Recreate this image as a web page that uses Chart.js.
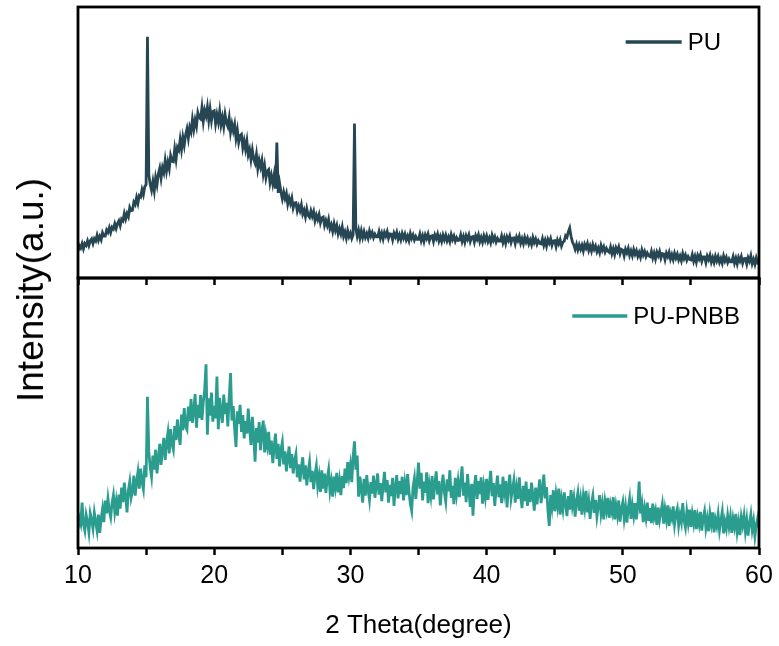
<!DOCTYPE html>
<html>
<head>
<meta charset="utf-8">
<title>XRD PU / PU-PNBB</title>
<script src="https://cdn.jsdelivr.net/npm/chart.js@4.4.0/dist/chart.umd.min.js"></script>
<style>
  body { margin: 0; background: #fff; }
  #wrap { position: relative; width: 779px; height: 646px; }
  #wrap canvas { position: absolute; left: 0; top: 0; }
  #ytitle {
    position: absolute; left: 31px; top: 290px;
    transform: translate(-50%, -50%) rotate(-90deg);
    font: 37px "Liberation Sans", Arial, sans-serif; color: #000; white-space: nowrap;
  }
</style>
</head>
<body>
<div id="wrap">
  <canvas id="chart-pu" width="779" height="646"></canvas>
  <canvas id="chart-pnbb" width="779" height="646"></canvas>
  <div id="ytitle">Intensity(a.u.)</div>
</div>
<script>
// 2θ sampling grid, 10..60 deg every 0.1 deg
var twoTheta = Array.from({length: 501}, function(_, i) { return +(10 + i * 0.1).toFixed(1); });
var xTicks = [10, 20, 30, 40, 50, 60];

// PU (top panel), one row = 1 deg
var puValues = [
  9.9, 12.0, 11.1, 12.7, 10.8, 12.7, 12.0, 13.7, 12.0, 13.7,
  14.4, 12.7, 14.5, 13.7, 15.8, 13.9, 15.4, 14.1, 16.7, 15.5,
  15.5, 17.7, 16.8, 18.6, 16.8, 18.7, 18.1, 20.0, 18.3, 20.1,
  21.1, 19.3, 21.7, 21.1, 23.8, 21.8, 23.8, 22.6, 26.0, 24.8,
  25.0, 28.0, 27.1, 29.7, 27.6, 30.4, 29.9, 32.6, 30.8, 33.7,
  34.5, 89.0, 38.0, 34.6, 32.4, 35.6, 32.2, 37.0, 34.4, 38.4,
  40.5, 36.9, 40.7, 38.9, 43.3, 39.5, 42.7, 40.3, 45.1, 43.1,
  42.9, 47.5, 43.8, 48.2, 47.2, 51.1, 47.5, 51.9, 49.0, 52.8,
  55.0, 51.6, 55.6, 53.9, 58.5, 54.9, 58.3, 56.0, 61.0, 59.2,
  58.7, 62.9, 57.9, 61.8, 59.8, 63.1, 58.3, 62.3, 58.1, 61.4,
  61.7, 57.0, 60.3, 57.6, 61.5, 56.6, 59.3, 55.9, 60.3, 57.3,
  55.9, 59.1, 53.8, 56.8, 54.3, 56.7, 51.6, 54.6, 50.1, 52.5,
  53.0, 48.1, 50.6, 47.5, 50.6, 45.5, 47.4, 43.7, 47.2, 43.9,
  42.4, 45.6, 40.4, 43.4, 41.0, 43.4, 38.4, 41.4, 37.0, 39.4,
  40.0, 35.2, 37.8, 34.8, 38.0, 33.0, 50.0, 31.4, 35.0, 31.8,
  29.2, 31.7, 29.4, 31.2, 27.3, 29.5, 27.5, 29.5, 25.9, 27.7,
  27.8, 24.7, 26.5, 24.8, 27.0, 23.6, 25.0, 22.6, 25.5, 23.1,
  22.4, 24.7, 22.8, 24.5, 21.2, 23.2, 21.6, 23.4, 20.4, 22.2,
  22.5, 19.4, 21.2, 19.4, 21.6, 18.2, 19.6, 17.2, 20.0, 17.6,
  19.4, 16.3, 18.2, 16.3, 18.8, 15.4, 17.0, 14.7, 17.4, 15.3,
  16.6, 14.6, 16.0, 57.0, 18.2, 15.4, 17.6, 14.8, 17.4, 15.0,
  17.1, 15.0, 16.4, 14.7, 17.3, 15.5, 16.8, 14.9, 16.2, 15.2,
  15.2, 17.1, 14.7, 16.5, 14.4, 16.8, 15.5, 17.1, 14.7, 16.3,
  16.2, 14.1, 16.5, 15.2, 16.8, 14.3, 15.9, 14.1, 16.4, 14.7,
  16.2, 14.1, 15.5, 13.8, 16.4, 14.6, 15.9, 14.0, 15.3, 14.3,
  14.3, 16.2, 13.8, 15.6, 13.5, 15.9, 14.6, 16.2, 13.8, 15.4,
  15.6, 13.5, 15.9, 14.6, 16.2, 13.7, 15.3, 13.5, 15.8, 14.1,
  15.8, 13.7, 15.1, 13.4, 16.0, 14.2, 15.5, 13.6, 14.9, 13.9,
  14.0, 15.9, 13.5, 15.3, 13.2, 15.6, 14.3, 15.9, 13.5, 15.1,
  15.3, 13.2, 15.6, 14.3, 15.9, 13.4, 15.0, 13.2, 15.5, 13.8,
  15.5, 13.4, 14.8, 13.1, 15.7, 13.9, 15.2, 13.3, 14.6, 13.6,
  13.6, 15.5, 13.1, 14.9, 12.8, 15.2, 13.9, 15.5, 13.1, 14.7,
  14.8, 12.7, 15.1, 13.8, 15.4, 12.9, 14.5, 12.7, 15.0, 13.3,
  14.7, 12.6, 14.0, 12.3, 14.9, 13.1, 14.4, 12.5, 13.8, 12.8,
  12.6, 14.5, 12.1, 13.9, 11.8, 14.2, 12.9, 14.5, 12.1, 13.7,
  13.8, 11.6, 14.0, 12.6, 14.1, 11.8, 13.2, 13.6, 15.6, 15.0,
  17.0, 18.4, 15.4, 13.4, 12.2, 10.6, 12.4, 10.4, 12.2, 10.6,
  12.1, 10.0, 12.4, 11.1, 12.7, 10.2, 11.8, 10.0, 12.3, 10.6,
  11.8, 9.7, 11.1, 9.4, 12.0, 10.2, 11.5, 9.6, 10.9, 9.9,
  9.5, 11.4, 9.0, 10.8, 8.7, 11.1, 9.8, 11.4, 9.0, 10.6,
  10.3, 8.2, 10.6, 9.3, 10.9, 8.4, 10.0, 8.2, 10.5, 8.8,
  10.1, 8.0, 9.4, 7.7, 10.3, 8.5, 9.8, 7.9, 9.2, 8.2,
  7.9, 9.8, 7.4, 9.2, 7.1, 9.5, 8.2, 9.8, 7.4, 9.0,
  8.9, 6.8, 9.2, 7.9, 9.5, 7.0, 8.6, 6.8, 9.1, 7.4,
  8.8, 6.7, 8.1, 6.4, 9.0, 7.2, 8.5, 6.6, 7.9, 6.9,
  6.7, 8.6, 6.2, 8.0, 5.9, 8.3, 7.0, 8.6, 6.2, 7.8,
  7.8, 5.7, 8.1, 6.8, 8.4, 5.9, 7.5, 5.7, 8.0, 6.3,
  7.9, 5.8, 7.2, 5.5, 8.1, 6.3, 7.6, 5.7, 7.0, 6.0,
  6.0, 7.9, 5.5, 7.3, 5.2, 7.6, 6.3, 7.9, 5.5, 7.1,
  7.2, 5.1, 7.5, 6.2, 8.2, 5.3, 6.9, 5.1, 7.4, 5.7,
  6.3
];

// PU-PNBB (bottom panel), one row = 1 deg
var pnbbValues = [
  7.0, 11.0, 9.0, 16.8, 8.8, 6.4, 12.2, 9.6, 5.8, 12.8,
  10.4, 7.2, 13.0, 9.6, 6.4, 12.4, 5.6, 10.8, 14.4, 9.6,
  17.6, 12.8, 18.2, 13.8, 11.4, 16.6, 19.6, 13.4, 17.2, 12.0,
  19.8, 14.6, 22.4, 17.0, 24.2, 18.8, 13.2, 21.4, 24.6, 18.6,
  21.0, 26.8, 19.4, 24.6, 28.2, 22.0, 29.4, 24.4, 21.8, 30.6,
  26.2, 56.0, 35.6, 30.0, 26.4, 34.2, 29.0, 36.4, 27.6, 33.0,
  38.6, 30.8, 36.4, 40.8, 32.6, 39.0, 42.6, 35.0, 44.0, 38.6,
  36.4, 45.2, 40.0, 47.6, 41.8, 38.2, 49.4, 43.6, 51.8, 45.0,
  43.8, 52.4, 47.0, 55.2, 46.4, 50.8, 57.0, 44.6, 53.0, 48.2,
  56.6, 47.4, 54.0, 58.6, 68.0, 42.0, 55.4, 49.0, 57.6, 46.8,
  52.6, 48.0, 63.5, 44.0, 55.6, 50.2, 46.4, 56.8, 49.6, 53.8,
  45.0, 55.4, 64.8, 47.2, 52.6, 44.2, 37.4, 50.6, 46.0, 53.0,
  43.0, 49.2, 40.6, 47.0, 42.4, 51.6, 44.0, 38.2, 48.6, 41.4,
  32.0, 44.4, 39.0, 46.6, 36.2, 42.8, 47.2, 35.4, 41.6, 38.0,
  43.0, 34.6, 39.8, 31.4, 37.2, 42.4, 33.0, 38.6, 30.2, 36.4,
  39.2, 31.0, 35.8, 28.4, 33.2, 37.6, 29.6, 34.8, 27.6, 32.4,
  34.8, 26.2, 31.0, 24.6, 29.8, 33.6, 25.4, 30.6, 23.2, 28.4,
  31.8, 24.4, 28.6, 21.8, 27.2, 30.4, 23.0, 26.6, 20.8, 28.8,
  22.0, 27.6, 20.4, 25.8, 29.0, 21.2, 24.6, 19.0, 26.4, 22.6,
  27.8, 20.6, 24.8, 19.6, 26.6, 22.2, 29.4, 24.0, 31.8, 26.8,
  30.6, 24.4, 33.8, 39.5, 29.0, 34.2, 19.0, 26.4, 22.0, 16.8,
  25.6, 19.4, 27.0, 21.6, 17.8, 24.4, 20.2, 26.8, 18.6, 23.2,
  27.6, 19.8, 24.0, 17.4, 22.8, 28.2, 20.6, 25.2, 16.8, 23.4,
  19.2, 26.0, 15.6, 22.4, 27.0, 18.4, 24.8, 20.0, 26.4, 17.6,
  23.8, 19.6, 27.4, 21.0, 16.4, 13.8, 22.6, 25.8, 18.2, 24.4,
  31.6, 22.0, 27.8, 17.6, 24.6, 20.4, 28.0, 16.6, 23.2, 19.4,
  26.6, 18.0, 23.6, 28.4, 19.8, 24.8, 15.8, 22.2, 27.2, 20.6,
  17.2, 25.4, 21.0, 28.8, 18.6, 23.0, 16.2, 26.0, 20.2, 24.6,
  18.8, 25.0, 30.2, 19.4, 24.2, 17.0, 27.4, 21.4, 15.2, 23.8,
  12.0, 22.6, 27.0, 18.2, 24.8, 20.0, 26.2, 16.4, 22.8, 19.0,
  25.6, 17.8, 23.4, 28.6, 19.2, 24.0, 15.6, 22.0, 26.8, 18.8,
  23.6, 16.6, 26.4, 20.8, 24.8, 15.0, 22.6, 27.2, 18.4, 21.8,
  25.0, 16.8, 22.2, 18.2, 26.2, 19.6, 14.8, 23.0, 17.4, 24.6,
  15.6, 21.8, 17.0, 24.2, 19.4, 13.8, 22.4, 16.2, 20.8, 25.4,
  16.6, 21.0, 27.2, 18.4, 22.6, 14.2, 8.2, 19.6, 15.4, 21.4,
  13.6, 19.8, 15.8, 22.0, 12.4, 18.0, 14.4, 20.6, 16.2, 11.8,
  19.2, 14.2, 21.4, 15.6, 18.6, 11.6, 17.4, 20.4, 13.8, 18.0,
  12.4, 19.0, 15.0, 21.2, 13.2, 17.2, 10.8, 16.6, 19.4, 13.0,
  17.8, 11.6, 15.4, 19.6, 12.8, 16.4, 10.6, 17.2, 14.0, 18.6,
  11.2, 16.0, 13.4, 18.8, 10.6, 15.6, 12.2, 17.6, 9.8, 14.6,
  17.0, 11.0, 15.2, 9.4, 14.8, 18.2, 10.8, 15.8, 12.0, 16.6,
  10.6, 15.4, 24.6, 12.8, 16.2, 9.6, 14.6, 11.2, 16.8, 10.0,
  14.8, 9.2, 16.4, 11.4, 13.8, 8.6, 15.0, 10.4, 13.2, 16.2,
  9.0, 14.2, 10.6, 15.8, 8.2, 13.0, 11.0, 15.4, 8.8, 12.6,
  14.6, 8.4, 12.2, 9.6, 16.6, 10.2, 7.6, 13.4, 9.4, 14.2,
  7.8, 12.6, 9.2, 14.0, 7.0, 11.6, 8.8, 13.4, 6.4, 11.2,
  13.6, 7.4, 10.8, 6.2, 12.6, 9.0, 13.2, 5.8, 10.6, 8.2,
  12.4, 6.6, 10.2, 13.4, 5.4, 9.8, 7.2, 12.0, 8.0, 11.6,
  5.6, 10.8, 7.8, 12.6, 6.0, 9.6, 4.8, 11.4, 8.4, 12.0,
  6.2, 10.4, 4.6, 9.2, 12.4, 6.8, 10.0, 4.4, 8.6, 11.0,
  7.6
];

function buildPoints(values) {
  return twoTheta.map(function(x, i) { return {x: x, y: values[i]}; });
}

// box round the plot area, as in the original figure
var frame = {
  id: 'frame',
  afterDatasetsDraw: function(chart) {
    var a = chart.chartArea, ctx = chart.ctx;
    ctx.save();
    ctx.strokeStyle = '#000';
    ctx.lineWidth = 2.8;
    ctx.strokeRect(a.left, a.top, a.right - a.left, a.bottom - a.top);
    ctx.restore();
  }
};

// legend drawn inside the plot, top right
var insideLegend = {
  id: 'insideLegend',
  afterDraw: function(chart, args, opts) {
    var ctx = chart.ctx, a = chart.chartArea;
    var ds = chart.data.datasets[0];
    ctx.save();
    ctx.font = opts.font;
    var tw = ctx.measureText(ds.label).width;
    var xt = a.right - opts.right - tw;
    var y = a.top + opts.top;
    ctx.strokeStyle = ds.borderColor;
    ctx.lineWidth = 3.5;
    ctx.beginPath();
    ctx.moveTo(xt - opts.gap - opts.lineLen, y);
    ctx.lineTo(xt - opts.gap, y);
    ctx.stroke();
    ctx.fillStyle = '#000';
    ctx.textBaseline = 'middle';
    ctx.fillText(ds.label, xt, y + 1);
    ctx.restore();
  }
};

var fontFamily = '"Liberation Sans", Arial, sans-serif';

function xScale(showLabels, height) {
  return {
    type: 'linear',
    min: 10,
    max: 60,
    ticks: {
      stepSize: 5,
      display: showLabels,
      color: '#000',
      padding: 6,
      font: {family: fontFamily, size: 25},
      callback: function(v) { return xTicks.indexOf(v) >= 0 ? String(v) : ''; }
    },
    grid: {drawOnChartArea: false, tickLength: 7, tickWidth: 2.5, tickColor: '#000'},
    border: {display: false},
    title: {
      display: showLabels,
      text: '2 Theta(degree)',
      color: '#000',
      font: {family: fontFamily, size: 26},
      padding: {top: 0, bottom: 5}
    },
    afterFit: function(s) { s.height = height; }
  };
}

function makeChart(id, label, color, width, points, padding, xHeight, legendOpts) {
  return new Chart(document.getElementById(id), {
    type: 'line',
    data: {
      datasets: [{
        label: label,
        data: points,
        borderColor: color,
        borderWidth: width,
        pointRadius: 0,
        tension: 0
      }]
    },
    options: {
      responsive: false,
      animation: false,
      layout: {padding: padding},
      plugins: {
        legend: {display: false},
        tooltip: {enabled: false},
        insideLegend: legendOpts
      },
      scales: {
        x: xScale(xHeight > 20, xHeight),
        y: {min: 0, max: 100, display: false}
      }
    },
    plugins: [frame, insideLegend]
  });
}

makeChart('chart-pu', 'PU', '#264653', 2.8, buildPoints(puValues),
  {left: 78, right: 20, top: 7, bottom: 357}, 11,
  {font: '24px ' + fontFamily, right: 38, top: 35, gap: 6, lineLen: 56});

makeChart('chart-pnbb', 'PU-PNBB', '#2a9d8f', 2.8, buildPoints(pnbbValues),
  {left: 78, right: 20, top: 278, bottom: 0}, 98,
  {font: '24px ' + fontFamily, right: 19, top: 38, gap: 6, lineLen: 55});
</script>
</body>
</html>
